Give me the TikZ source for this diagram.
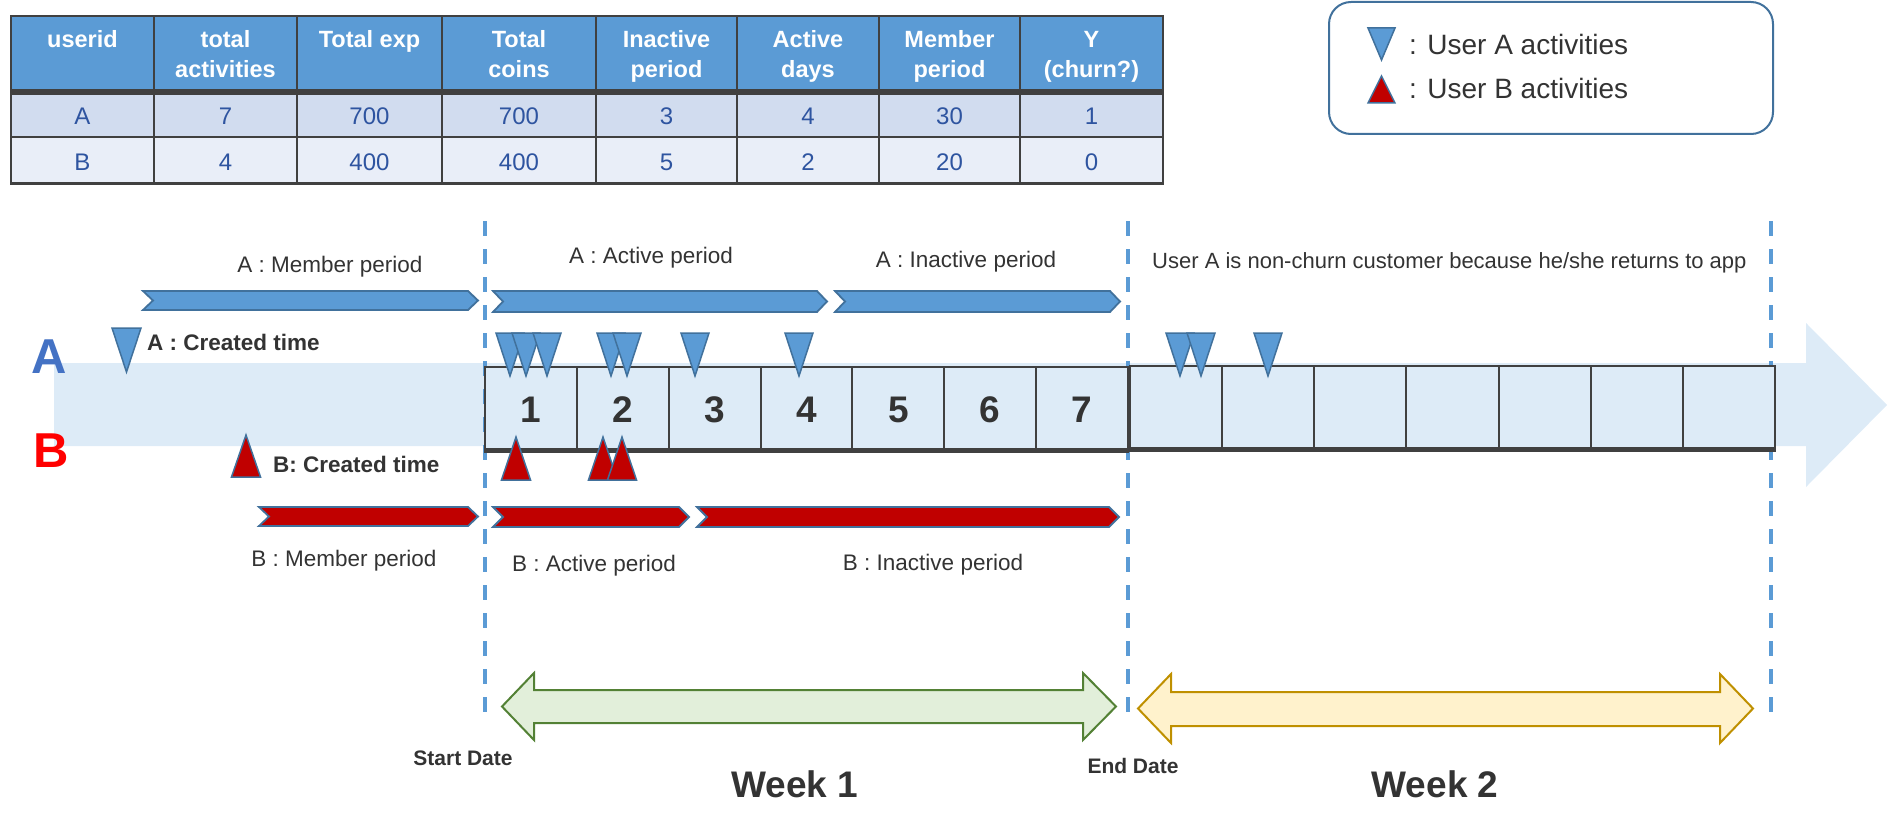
\documentclass[tikz,border=0pt]{standalone}
\usepackage{fontspec}
\setmainfont{Liberation Sans}
\definecolor{hdr}{HTML}{5B9BD5}
\definecolor{rowa}{HTML}{D1DCEF}
\definecolor{rowb}{HTML}{E9EEF8}
\definecolor{gridc}{HTML}{404040}
\definecolor{txt}{HTML}{333333}
\definecolor{rowtxt}{HTML}{2E54A0}
\definecolor{bandc}{HTML}{DDEBF7}
\definecolor{ablue}{HTML}{5B9BD5}
\definecolor{aedge}{HTML}{41719C}
\definecolor{bred}{HTML}{C00000}
\definecolor{dashc}{HTML}{5B9BD5}
\definecolor{gfill}{HTML}{E2EFDA}
\definecolor{gedge}{HTML}{538135}
\definecolor{yfill}{HTML}{FFF2CC}
\definecolor{yedge}{HTML}{BF9000}
\definecolor{bigA}{HTML}{4472C4}
\newcommand{\chev}[5]{\draw[#5] (#1,#3) -- ({#2-10},#3) -- (#2,{(#3+#4)/2}) -- ({#2-10},#4) -- (#1,#4) -- ({#1+10},{(#3+#4)/2}) -- cycle;}
\newcommand{\tdown}[4]{\draw[#4] ({#1-14},#2) -- ({#1+14},#2) -- (#1,#3) -- cycle;}
\newcommand{\tup}[4]{\draw[#4] ({#1-14.5},#3) -- ({#1+14.5},#3) -- (#1,#2) -- cycle;}
\begin{document}
\begin{tikzpicture}[x=1pt,y=-1pt,
  hd/.style={font=\bfseries\fontsize{23.5}{28}\selectfont, text=white, anchor=base, inner sep=0pt},
  cell/.style={font=\fontsize{24}{28}\selectfont, text=rowtxt, anchor=base, inner sep=0pt},
  lab/.style={font=\fontsize{22.5}{27}\selectfont, text=txt, anchor=base, inner sep=0pt},
  blab/.style={font=\bfseries\fontsize{22.5}{27}\selectfont, text=txt, anchor=base west, inner sep=0pt},
  digit/.style={font=\bfseries\fontsize{37}{40}\selectfont, text=txt, anchor=base, inner sep=0pt},
  dlab/.style={font=\bfseries\fontsize{21}{24}\selectfont, text=txt, anchor=base, inner sep=0pt},
  leg/.style={font=\fontsize{28}{32}\selectfont, text=txt, anchor=base west, inner sep=0pt},
  atri/.style={fill=ablue, draw=aedge, line width=1.5pt},
  btri/.style={fill=bred, draw=aedge, line width=1.5pt},
  achev/.style={fill=ablue, draw=aedge, line width=1.8pt},
  bchev/.style={fill=bred, draw=aedge, line width=1.8pt},
  dashline/.style={draw=dashc, line width=3.2pt, dash pattern=on 15pt off 13pt},
  gridline/.style={draw=gridc, line width=2pt},
  daybox/.style={fill=bandc, draw=gridc, line width=2pt}
]
\useasboundingbox (0,0) rectangle (1889,829);

% ---------------- table ----------------
\fill[hdr] (11,16) rectangle (1163,92);
\fill[rowa] (11,92) rectangle (1163,137);
\fill[rowb] (11,137) rectangle (1163,184);
\foreach \x in {11,154,297,442,596,737,879,1020,1163}{
  \draw[gridline] (\x,16) -- (\x,184);
}
\draw[gridline] (10,16) -- (1164,16);
\draw[draw=gridc, line width=6pt] (10,92) -- (1164,92);
\draw[gridline] (10,137.5) -- (1164,137.5);
\draw[gridline, line width=2.5pt] (10,183.5) -- (1164,183.5);

\node[hd] (h1) at (82.5,48) {userid};
\node[hd] (h2a) at (225.5,48) {total};
\node[hd] (h2b) at (225.5,78) {activities};
\node[hd] (h3) at (369.5,48) {Total exp};
\node[hd] (h4a) at (519,48) {Total};
\node[hd] (h4b) at (519,78) {coins};
\node[hd] (h5a) at (666.5,48) {Inactive};
\node[hd] (h5b) at (666.5,78) {period};
\node[hd] (h6a) at (808,48) {Active};
\node[hd] (h6b) at (808,78) {days};
\node[hd] (h7a) at (949.5,48) {Member};
\node[hd] (h7b) at (949.5,78) {period};
\node[hd] (h8a) at (1091.5,48) {Y};
\node[hd] (h8b) at (1091.5,78) {(churn?)};

\foreach \x/\a/\b [count=\i] in {82.5/A/B,225.5/7/4,369.5/700/400,519/700/400,666.5/3/5,808/4/2,949.5/30/20,1091.5/1/0}{
  \node[cell] (ra\i) at (\x,124.5) {\a};
  \node[cell] (rb\i) at (\x,170.5) {\b};
}

% ---------------- legend ----------------
\draw[draw=aedge, line width=2pt, rounded corners=22pt] (1329,2) rectangle (1773,134);
\draw[atri] (1368,28) -- (1395,28) -- (1381.5,60) -- cycle;
\draw[btri] (1368,103) -- (1395,103) -- (1381.5,76) -- cycle;
\node[leg] (legA) at (1409,55) {: User A activities};
\node[leg] (legB) at (1409,99) {: User B activities};

% ---------------- band ----------------
\fill[bandc] (54,363) -- (1806,363) -- (1806,323) -- (1887,405) -- (1806,487) -- (1806,446) -- (54,446) -- cycle;

% ---------------- dashed lines ----------------
\draw[dashline] (485,221) -- (485,716);
\draw[dashline] (1128,221) -- (1128,716);
\draw[dashline] (1771,221) -- (1771,716);

% ---------------- day boxes ----------------
\foreach \x in {485,576.9,668.7,760.6,852.4,944.3,1036.1}{
  \draw[daybox] (\x,367) rectangle ({\x+91.9},450);
}
\foreach \x in {1130,1222.1,1314.3,1406.4,1498.6,1590.7,1682.9}{
  \draw[daybox] (\x,366) rectangle ({\x+92.1},449);
}
\draw[draw=gridc, line width=5pt] (484,450) -- (1129,450);
\draw[draw=gridc, line width=5pt] (1129,449) -- (1776,449);
\foreach \x/\d in {531/1,623/2,714.6/3,806.5/4,898.4/5,990.2/6,1082/7}{
  \node[digit] (d\d) at (\x,422) {\d};
}

% ---------------- big letters ----------------
\node[font=\bfseries\fontsize{49}{52}\selectfont, text=bigA, anchor=base, inner sep=0pt] (userA) at (49,373) {A};
\node[font=\bfseries\fontsize{49}{52}\selectfont, text=red, anchor=base, inner sep=0pt] (userB) at (51.5,467) {B};

% ---------------- period chevrons ----------------
\chev{143}{478}{291}{310}{achev}
\chev{493}{827}{291}{312}{achev}
\chev{835}{1120}{291}{312}{achev}
\chev{259}{478}{507}{526}{bchev}
\chev{493}{689}{507}{527}{bchev}
\chev{697}{1119}{507}{527}{bchev}

\node[lab] (amem) at (330,272) {A : Member period};
\node[lab] (aact) at (651,263) {A : Active period};
\node[lab] (ainact) at (966,267) {A : Inactive period};
\node[lab, anchor=base west, font=\fontsize{22}{26}\selectfont] (note) at (1152,268) {User A is non-churn customer because he/she returns to app};
\node[lab] (bmem) at (344,566) {B : Member period};
\node[lab] (bact) at (594,571) {B : Active period};
\node[lab] (binact) at (933,570) {B : Inactive period};

% ---------------- created time ----------------
\draw[atri] (112,328) -- (141,328) -- (126.5,372) -- cycle;
\node[blab] (acr) at (147,350) {A : Created time};
\tup{246}{435}{477}{btri}
\node[blab] (bcr) at (273,472) {B: Created time};

% ---------------- user A activities ----------------
\foreach \c in {510,526,547,611,627,695,799,1180,1201,1268}{
  \tdown{\c}{333}{376}{atri}
}

% ---------------- user B activities ----------------
\foreach \c in {516,603,622}{
  \tup{\c}{437}{480}{btri}
}

% ---------------- week arrows ----------------
\draw[fill=gfill, draw=gedge, line width=2pt] (502,706.5) -- (534,673) -- (534,690) -- (1083,690) -- (1083,673) -- (1116,706.5) -- (1083,740) -- (1083,723) -- (534,723) -- (534,740) -- cycle;
\draw[fill=yfill, draw=yedge, line width=2pt] (1138,708.5) -- (1171,674) -- (1171,692) -- (1720,692) -- (1720,674) -- (1753,708.5) -- (1720,743) -- (1720,726) -- (1171,726) -- (1171,743) -- cycle;

\node[dlab] (sd) at (463,765) {Start Date};
\node[dlab] (ed) at (1133,773) {End Date};
\node[digit] (w1) at (795,797) {Week 1};
\node[digit] (w2) at (1435,797) {Week 2};
\end{tikzpicture}
\end{document}
